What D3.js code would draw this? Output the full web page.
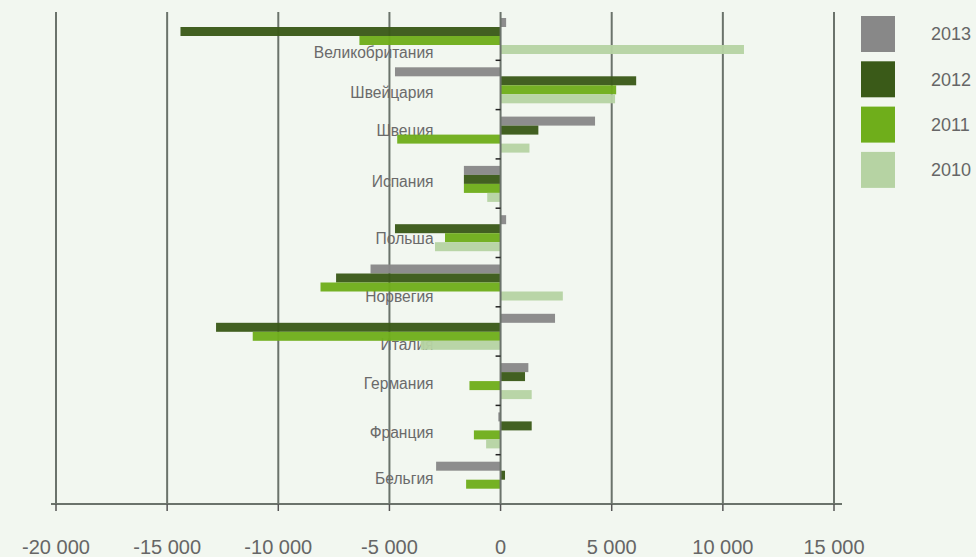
<!DOCTYPE html>
<html>
<head>
<meta charset="utf-8">
<style>
body { margin: 0; background: #f2f7f0; }
svg { display: block; font-family: "Liberation Sans", Arial, sans-serif; }
.grid line { stroke: #6b736b; stroke-width: 2; }
.cat { font-size: 15.6px; fill: #6a6a6a; text-anchor: end; }
.tick-label { font-size: 20px; fill: #666; text-anchor: middle; }
.legend text { font-size: 18px; fill: #666; }
</style>
</head>
<body>
<svg width="976" height="557"></svg>
<script src="https://d3js.org/d3.v7.min.js"></script>
<script>

var countries = ["Великобритания", "Швейцария", "Швеция", "Испания", "Польша",
                 "Норвегия", "Италия", "Германия", "Франция", "Бельгия"];
var years = ["2013", "2012", "2011", "2010"];

var v2013 = [250, -4750, 4250, -1650, 250, -5850, 2450, 1250, -100, -2900];
var v2012 = [-14400, 6100, 1700, -1650, -4750, -7400, -12800, 1100, 1400, 200];
var v2011 = [-6350, 5200, -4650, -1650, -2500, -8100, -11150, -1400, -1200, -1550];
var v2010 = [10950, 5150, 1300, -600, -2950, 2800, -3600, 1400, -650, 0];

var xTicks = [-20000, -15000, -10000, -5000, 0, 5000, 10000, 15000];

var colors = ["#888888", "#3a5a18", "#6fae1b", "#b6d3a3"];
// small vertical nudges of the country labels (they sit unevenly in the original)
var labelNudge = [17, 8, -4, -2, 6, 14, 13, 3, 2, -1];

var series = [v2013, v2012, v2011, v2010];
var rows = [];
countries.forEach(function(c, i) {
  years.forEach(function(y, j) {
    rows.push({ country: c, year: y, value: series[j][i], color: colors[j] });
  });
});

var svg = d3.select("svg");

var x = d3.scaleLinear().domain([-20000, 15000]).range([56, 834]);
var y = d3.scaleBand().domain(countries).range([11, 504]);
var y1 = d3.scaleBand().domain(years).range([7, 43]);

var plotTop = 12, plotBottom = 504;

// vertical grid lines
svg.append("g").attr("class", "grid")
  .selectAll("line")
  .data(xTicks.filter(function(d) { return d !== 0; }))
  .enter().append("line")
    .attr("x1", function(d) { return x(d); })
    .attr("x2", function(d) { return x(d); })
    .attr("y1", plotTop)
    .attr("y2", plotBottom);

// category labels (under the bars, as in the original)
svg.append("g")
  .selectAll("text")
  .data(countries)
  .enter().append("text")
    .attr("class", "cat")
    .attr("x", x(0) - 67)
    .attr("y", function(d, i) { return y(d) + y.bandwidth() / 2 + labelNudge[i]; })
    .attr("dy", "0.35em")
    .text(function(d) { return d; });

// bars
svg.append("g")
  .selectAll("rect")
  .data(rows)
  .enter().append("rect")
    .attr("x", function(d) { return x(Math.min(0, d.value)); })
    .attr("y", function(d) { return y(d.country) + y1(d.year); })
    .attr("width", function(d) { return Math.abs(x(d.value) - x(0)); })
    .attr("height", y1.bandwidth())
    .attr("fill", function(d) { return d.color; })
    .attr("opacity", 0.96);

// zero axis with small ticks at band edges
svg.append("line")
  .attr("x1", x(0)).attr("x2", x(0))
  .attr("y1", plotTop).attr("y2", plotBottom)
  .attr("stroke", "#6b736b").attr("stroke-width", 2);

svg.append("g")
  .selectAll("line")
  .data(countries.slice(1))
  .enter().append("line")
    .attr("x1", x(0) - 5).attr("x2", x(0))
    .attr("y1", function(d) { return y(d); })
    .attr("y2", function(d) { return y(d); })
    .attr("stroke", "#222").attr("stroke-width", 1.5);

// bottom axis
var axis = svg.append("g")
  .attr("transform", "translate(0," + plotBottom + ")");

axis.append("line")
  .attr("x1", x(-20000) - 5).attr("x2", x(15000) + 8)
  .attr("stroke", "#6b736b").attr("stroke-width", 2);

axis.selectAll(".tk")
  .data(xTicks)
  .enter().append("line")
    .attr("x1", function(d) { return x(d); })
    .attr("x2", function(d) { return x(d); })
    .attr("y1", 0).attr("y2", 7)
    .attr("stroke", "#555").attr("stroke-width", 1.5);

var fmt = d3.format(",");
axis.selectAll(".tick-label")
  .data(xTicks)
  .enter().append("text")
    .attr("class", "tick-label")
    .attr("x", function(d) { return x(d); })
    .attr("y", 50)
    .text(function(d) { return fmt(d).replace(/,/g, " ").replace("−", "-"); });

// legend
var legend = svg.append("g").attr("class", "legend")
  .selectAll("g")
  .data(years)
  .enter().append("g")
    .attr("transform", function(d, i) { return "translate(861," + (16 + i * 45.3) + ")"; });

legend.append("rect")
  .attr("width", 34)
  .attr("height", 36)
  .attr("fill", function(d, i) { return colors[i]; });

legend.append("text")
  .attr("x", 70)
  .attr("y", 18)
  .attr("dy", "0.35em")
  .text(function(d) { return d; });

</script>
</body>
</html>
